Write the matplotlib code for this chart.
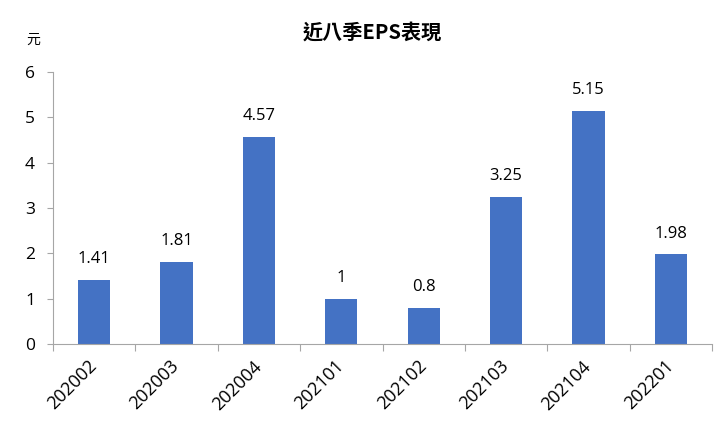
import matplotlib
matplotlib.use("Agg")
import matplotlib.pyplot as plt
import numpy as np

plt.rcParams['font.family'] = ['Open Sans', 'Noto Sans CJK TC', 'DejaVu Sans']

categories = ["202002", "202003", "202004", "202101", "202102", "202103", "202104", "202201"]
eps = [1.41, 1.81, 4.57, 1, 0.8, 3.25, 5.15, 1.98]
labels = ["1.41", "1.81", "4.57", "1", "0.8", "3.25", "5.15", "1.98"]

fig = plt.figure(figsize=(7.2, 4.22), dpi=100)
ax = fig.add_axes([53/720, 1-344/422, (712-53)/720, (344-72)/422])

x = np.arange(len(categories))
ax.bar(x, eps, width=0.39, color='#4472C4', zorder=2)
for xi, v, lab in zip(x, eps, labels):
    ax.annotate(lab, (xi, v), xytext=(0, 12), textcoords='offset points',
                ha='center', va='baseline', fontsize=12, color='#000000')

ax.set_xlim(-0.5, len(categories) - 0.5)
ax.set_ylim(0, 6)
ax.set_yticks(range(0, 7))
ax.set_yticklabels([str(i) for i in range(0, 7)], fontsize=12.5)
ax.set_xticks(x)
ax.set_xticklabels(categories, rotation=45, ha='right', va='center', rotation_mode='anchor', fontsize=13)
ax.tick_params(axis='x', which='major', length=0, pad=14)
ax.set_xticks(np.arange(-0.5, len(categories), 1), minor=True)
ax.tick_params(axis='x', which='minor', length=5, color='#A6A6A6', width=0.8)
ax.tick_params(axis='y', length=4, color='#A6A6A6', width=0.8, pad=9)

for s in ['top', 'right']:
    ax.spines[s].set_visible(False)
for s in ['left', 'bottom']:
    ax.spines[s].set_color('#A6A6A6')
    ax.spines[s].set_linewidth(0.8)

fig.text(372/720, 1-32/422, "近八季EPS表現", ha='center', va='center', fontsize=14.5,
         fontweight='bold', family=['Noto Sans CJK TC', 'DejaVu Sans'])
fig.text(33/720, 1-40/422, "元", ha='center', va='center', fontsize=10,
         family=['Noto Sans CJK TC', 'DejaVu Sans'])

fig.savefig("out.png", dpi=100)
